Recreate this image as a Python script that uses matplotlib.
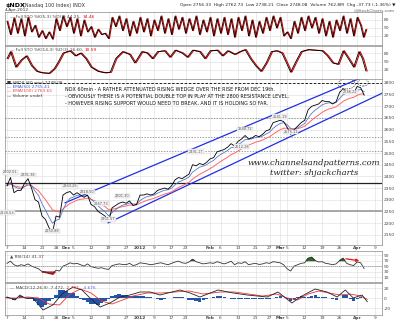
import numpy as np
import matplotlib
matplotlib.use('Agg')
import matplotlib.pyplot as plt
from matplotlib.patches import Ellipse

# ---------------- data (trading-day index 0 = 7 Nov 2011) ----------------
closes = [2360, 2395, 2330, 2340, 2340, 2370, 2390, 2350, 2300, 2290,
          2230, 2215, 2180, 2160, 2230, 2225, 2320, 2330, 2335, 2320,
          2330, 2320, 2310, 2320, 2280, 2270, 2250, 2240, 2230, 2205,
          2265, 2275, 2285, 2290, 2285, 2295, 2275, 2280, 2320, 2320,
          2325, 2320, 2325, 2340, 2345, 2350, 2345, 2360, 2385, 2395,
          2390, 2400, 2410, 2450, 2445, 2455, 2450, 2460, 2475, 2480,
          2505, 2510, 2515, 2525, 2540, 2530, 2550, 2560, 2575, 2560,
          2565, 2575, 2570, 2580, 2595, 2600, 2630, 2635, 2640, 2635,
          2610, 2580, 2600, 2615, 2630, 2640, 2685, 2700, 2705, 2710,
          2725, 2720, 2720, 2710, 2720, 2760, 2775, 2765, 2760, 2755,
          2785, 2780, 2748]

# Full STO %K(5,3) turning points (day index, value)
sto1_x = [0, 1, 2, 3, 4, 5, 6, 7, 8, 9, 10, 11, 12, 13, 14, 15, 16, 17, 18, 19,
          20, 21, 22, 23, 24, 25, 26, 27, 28, 29, 30, 31, 32, 33, 34, 35, 36, 37,
          38, 39, 40, 41, 42, 43, 44, 45, 46, 47, 48, 49, 50, 51, 52, 53, 54, 55,
          56, 57, 58, 59, 60, 61, 62, 63, 64, 65, 66, 67, 68, 69, 70, 71, 72, 73,
          74, 75, 76, 77, 78, 79, 80, 81, 82, 83, 84, 85, 86, 87, 88, 89, 90, 91,
          92, 93, 94, 95, 96, 97, 98, 99, 100, 101, 101.8, 102.5]
sto1_k = [75, 25, 88, 30, 85, 20, 90, 35, 60, 15, 40, 10, 35, 8, 85, 40, 95, 55,
          90, 30, 85, 20, 80, 35, 55, 15, 45, 25, 30, 10, 90, 55, 95, 40, 85, 20,
          75, 30, 90, 35, 85, 20, 80, 40, 95, 30, 85, 25, 95, 45, 90, 30, 85, 40,
          95, 25, 80, 35, 90, 20, 85, 30, 90, 25, 85, 15, 90, 40, 95, 20, 80, 15,
          75, 30, 90, 40, 95, 50, 90, 20, 35, 10, 75, 30, 90, 40, 95, 50, 90, 30,
          85, 20, 75, 15, 80, 40, 95, 30, 85, 20, 90, 60, 15, 44]

# Full STO %K(14,3) turning points
sto2_x = [0, 1, 2.5, 4, 5.5, 7, 8.5, 10, 12, 13.5, 14.5, 16, 18, 19.5, 21, 22.5,
          24, 26, 28, 29.5, 31, 33, 35, 36.5, 38.5, 40, 41.5, 43, 45, 46.5, 48,
          50, 51.5, 53, 55, 56.5, 58, 60, 61.5, 63, 65, 66.5, 68, 69.5, 71, 72.5,
          74, 75.5, 77, 78.5, 80, 81, 82.5, 84, 86, 88, 90, 91.5, 93, 94.5, 96,
          97.5, 99, 100.5, 101.5, 102.5]
sto2_k = [60, 85, 30, 55, 70, 35, 15, 10, 8, 25, 45, 80, 88, 70, 80, 60, 30, 15,
          10, 12, 60, 85, 75, 45, 85, 80, 60, 85, 88, 65, 90, 80, 65, 90, 85, 60,
          88, 90, 70, 88, 75, 85, 92, 60, 35, 15, 45, 85, 88, 80, 40, 12, 50, 85,
          92, 90, 88, 70, 45, 40, 88, 60, 30, 85, 60, 16.6]

# RSI(14), one value per day
rsi_v = [60, 68, 55, 50, 55, 52, 58, 50, 45, 40, 30, 28, 25, 22, 35, 32, 50, 55,
         62, 58, 60, 55, 50, 58, 48, 45, 42, 44, 40, 38, 52, 55, 58, 56, 55, 60,
         52, 55, 62, 60, 58, 55, 57, 60, 62, 58, 55, 60, 65, 68, 62, 60, 65, 74,
         66, 62, 58, 60, 62, 60, 66, 62, 58, 62, 68, 55, 62, 60, 66, 55, 58, 60,
         56, 58, 62, 60, 66, 64, 62, 55, 40, 32, 50, 55, 60, 62, 78, 82, 70, 65,
         66, 60, 58, 55, 58, 70, 78, 60, 55, 52, 65, 62, 41]

# MACD line and signal line, turning points
macd_x = [0, 2.3, 3.7, 5.1, 7.4, 10.3, 13.1, 16, 18.9, 21.4, 23.7, 26.6, 29.4,
          32.3, 35.1, 38, 40.9, 43.7, 49.4, 52.3, 55.1, 60.3, 64.6, 68.6, 74.3,
          77.4, 81.4, 83.7, 88, 91.4, 94.3, 96.6, 98.9, 101.4, 102.9]
macd_v = [2, -4, 6, 0, 0, -24, -14, 10, 22, 16, 0, -18, -10, 2, 6, 12, 12, 6,
          16, 10, 2, 16, 10, 6, 2, 12, -10, 2, 18, 12, 2, 16, 0, 6, -7.5]
sig_x = [0, 3, 6, 9, 12, 15, 18, 21, 24, 27, 30, 33, 36, 40, 44, 48, 52, 56, 61,
         65, 69, 73, 77, 80, 83, 86, 89, 92, 95, 98, 101, 102.9]
sig_v = [0, 0, 2, 0, -12, -14, 8, 18, 10, -6, -12, -4, 4, 10, 10, 12, 14, 8, 12,
         12, 8, 4, 8, 0, -4, 8, 14, 10, 6, 8, 4, -2.8]

tick_pos = [0, 5, 10, 14, 17, 19, 24, 29, 34, 38, 42, 47, 51, 58, 61, 66,
            71, 75, 78, 80, 85, 90, 95, 100, 105]
tick_lab = ['7', '14', '21', '28', 'Dec', '5', '12', '19', '27', '2012', '9',
            '17', '23', 'Feb', '6', '13', '21', '27', 'Mar', '5', '12', '19',
            '26', 'Apr', '9']
month_labels = {'Dec', '2012', 'Feb', 'Mar', 'Apr'}

price_ticks = [2150, 2200, 2250, 2300, 2350, 2400, 2450, 2500, 2550, 2600,
               2650, 2700, 2750, 2800]

price_notes = [(1, 2402.51, '2402.51'), (6, 2391.38, '2391.38'),
               (0, 2230.53, '2230.53'), (13, 2150.88, '2150.88'),
               (18, 2343.26, '2343.26'), (23, 2318.50, '2318.50'),
               (27, 2267.73, '2267.73'), (33, 2301.30, '2301.30'),
               (29, 2201.57, '2201.57'), (54, 2491.17, '2491.17'),
               (68, 2588.72, '2588.72'), (67, 2512.28, '2512.28'),
               (78, 2641.19, '2641.19'), (81, 2575.11, '2575.11'),
               (98, 2746.22, '2746.22')]

upper_chan = ([16.6, 107.1], [2287, 2860])
lower_chan = ([28.9, 107.1], [2201, 2756])

# ---------------- derived ----------------
c = np.array(closes, dtype=float)
x = np.arange(len(c))

def ema(a, span):
    k = 2.0 / (span + 1)
    out = np.empty_like(a)
    out[0] = a[0]
    for i in range(1, len(a)):
        out[i] = a[i] * k + out[i - 1] * (1 - k)
    return out

ma_fast = ema(c, 4)
ma_slow = ema(c, 10)
rsi_arr = np.array(rsi_v, dtype=float)
grid = np.arange(0, 103, 1.0)
hist = np.interp(grid, macd_x, macd_v) - np.interp(grid, sig_x, sig_v)

# ---------------- figure ----------------
W, H = 400, 323
fig = plt.figure(figsize=(4, 3.23), dpi=100)
fig.patch.set_facecolor('white')

def ax_at(x0, y0, x1, y1):
    return fig.add_axes([x0 / W, 1 - y1 / H, (x1 - x0) / W, (y1 - y0) / H])

XL = (-0.57, 107.1)
FS = 3.1
GRID = '#dcdcdc'

def style(ax, yt, ylab, ylim):
    ax.set_xlim(*XL)
    ax.set_ylim(*ylim)
    ax.set_xticks(tick_pos)
    ax.set_xticklabels([])
    ax.tick_params(length=0, labelsize=3.2, colors='#444444', pad=1)
    ax.yaxis.tick_right()
    ax.set_yticks(yt)
    ax.set_yticklabels(ylab)
    for s in ax.spines.values():
        s.set_color('#888888'); s.set_linewidth(0.5)
    ax.grid(True, color=GRID, lw=0.4)
    ax.set_axisbelow(True)

def xlabels(ax):
    ax.set_xticklabels(tick_lab)
    for t in ax.get_xticklabels():
        if t.get_text() in month_labels:
            t.set_fontweight('bold')

def legend_line(ax, ypos, parts):
    """parts: list of (text, colour); each piece is placed after the previous."""
    prev = None
    for txt, col in parts:
        if prev is None:
            prev = ax.text(0.012, ypos, txt, transform=ax.transAxes, fontsize=FS,
                           va='baseline', color=col)
        else:
            prev = ax.annotate(txt, xy=(1, 0), xycoords=prev, xytext=(1.5, 0),
                               textcoords='offset points', fontsize=FS,
                               va='bottom', color=col)

# header
fig.text(5 / W, 1 - 5 / H, r'\$NDX', fontsize=4.5, fontweight='bold', va='center')
fig.text(23 / W, 1 - 5 / H, '(Nasdaq 100 Index) INDX', fontsize=3.5, va='center', color='#333333')
fig.text(5 / W, 1 - 10.5 / H, '4-Apr-2012', fontsize=3.2, va='center', color='#333333')
fig.text(395 / W, 1 - 5 / H, 'Open 2756.33  High 2762.73  Low 2738.21  Close 2748.08  Volume 762.8M  Chg -37.73 (-1.36%) \u25bc',
         fontsize=3.2, va='center', ha='right', color='#222222')
fig.text(395 / W, 1 - 10.5 / H, '@StockCharts.com', fontsize=3.2, va='center', ha='right', color='#666666')

# sto 1
a1 = ax_at(5, 12, 382, 45)
style(a1, [20, 50, 80], ['20', '50', '80'], (-14, 110))
a1.plot(np.array(sto1_x) + 0.25, sto1_k, color='#cc0000', lw=0.8)
a1.plot(sto1_x, sto1_k, color='black', lw=0.6)
legend_line(a1, 0.82, [('\u2014 Full STO %K(5,3) %D(3) 44.25,', '#444444'), ('34.46', '#dd0000')])

# sto 2
a2 = ax_at(5, 46, 382, 79)
style(a2, [20, 50, 80], ['20', '50', '80'], (-12, 105))
a2.plot(np.array(sto2_x) + 0.35, sto2_k, color='#cc0000', lw=0.8)
a2.plot(sto2_x, sto2_k, color='black', lw=0.6)
legend_line(a2, 0.86, [('\u2014 Full STO %K(14,3) %D(3) 16.60,', '#444444'), ('10.59', '#dd0000')])

# main price
am = ax_at(5, 79, 382, 245)
style(am, price_ticks, [str(v) for v in price_ticks], (2106, 2817))
xlabels(am)
am.axhline(2800, color='black', lw=0.6, ls=(0, (3, 2)))
for lv in (2650, 2570, 2510):
    am.axhline(lv, color='#777777', lw=0.5, ls=(0, (2, 2)))
am.axhline(2370, color='#222222', lw=0.9)
am.axhline(2251, color='#999999', lw=1.2)
am.plot(*upper_chan, color='#1f2fe0', lw=0.9)
am.plot(*lower_chan, color='#1f2fe0', lw=0.9)
am.plot(x, ma_slow, color='#ff6666', lw=0.7)
am.plot(x, ma_fast, color='#5577cc', lw=0.6)
am.plot(x, c, color='black', lw=0.6)
for xi, v, t in price_notes:
    am.text(xi, v + 6, t, fontsize=2.5, color='#555555', ha='center', va='bottom',
            bbox=dict(boxstyle='square,pad=0.1', fc='#f4f4f4', ec='#cccccc', lw=0.3))
am.add_patch(Ellipse((97, 2796), 4.9, 43, fill=False, ls=(0, (2, 1.5)), lw=0.5, color='#333333'))
am.add_patch(Ellipse((101.7, 2802), 3.0, 30, fill=False, ls=(0, (2, 1.5)), lw=0.5, color='#333333'))
leg = [('\u25a0 \\$NDX (60 min) 2748.08', '#333333'), ('\u2014 EMA(50) 2755.41', '#3355cc'),
       ('\u2014 EMA(100) 2763.65', '#ee4444'), ('\u2014 Volume undef', '#333333')]
for i, (t, col) in enumerate(leg):
    am.text(0.005, 0.99 - i * 0.026, t, transform=am.transAxes, fontsize=FS, va='top', color=col)
notes = ['NDX 60min - A RATHER ATTENUATED RISING WEDGE OVER THE RISE FROM DEC 19th.',
         '- OBVIOUSLY THERE IS A POTENTIAL DOUBLE TOP IN PLAY AT THE 2800 RESISTANCE LEVEL.',
         '- HOWEVER RISING SUPPORT WOULD NEED TO BREAK, AND IT IS HOLDING SO FAR.']
for i, t in enumerate(notes):
    am.text(16.6, 2770 - i * 29, t, fontsize=3.5, va='center', color='#111111')
am.text(68.8, 2459, 'www.channelsandpatterns.com', fontsize=6.0, family='DejaVu Serif',
        style='italic', color='#222222', va='center')
am.text(75.0, 2416, 'twitter: shjackcharts', fontsize=6.0, family='DejaVu Serif',
        style='italic', color='#222222', va='center')

# RSI
ar = ax_at(5, 251, 382, 282)
style(ar, [10, 30, 50, 70, 90], ['10', '30', '50', '70', '90'], (-8, 105))
ar.plot(x, rsi_arr, color='#333333', lw=0.6)
ar.fill_between(x, rsi_arr, 70, where=rsi_arr > 70, color='#336633', interpolate=True)
ar.fill_between(x, rsi_arr, 30, where=rsi_arr < 30, color='#cc2222', interpolate=True)
ar.axhline(50, color='#888888', lw=0.5, ls=(0, (2, 1)))
ar.annotate('', xy=(101.4, 68), xytext=(96, 78),
            arrowprops=dict(arrowstyle='-|>', color='#ee1111', lw=0.9, mutation_scale=4))
legend_line(ar, 0.8, [('\u25b2 RSI(14) 41.37', '#444444')])

# MACD
ac = ax_at(5, 283, 382, 315)
style(ac, [-20, 0, 20], ['-20', '0', '20'], (-34, 30))
xlabels(ac)
ac.bar(grid, hist, width=0.9, color='#2255aa')
ac.plot(sig_x, sig_v, color='#ee3333', lw=0.6)
ac.plot(macd_x, macd_v, color='#222222', lw=0.6)
legend_line(ac, 0.8, [('\u2014 MACD(12,26,9) -7.472,', '#444444'), ('-2.797,', '#ee3333'),
                      ('-4.676', '#5566ee')])

fig.savefig('out.png', dpi=100, facecolor='white')
